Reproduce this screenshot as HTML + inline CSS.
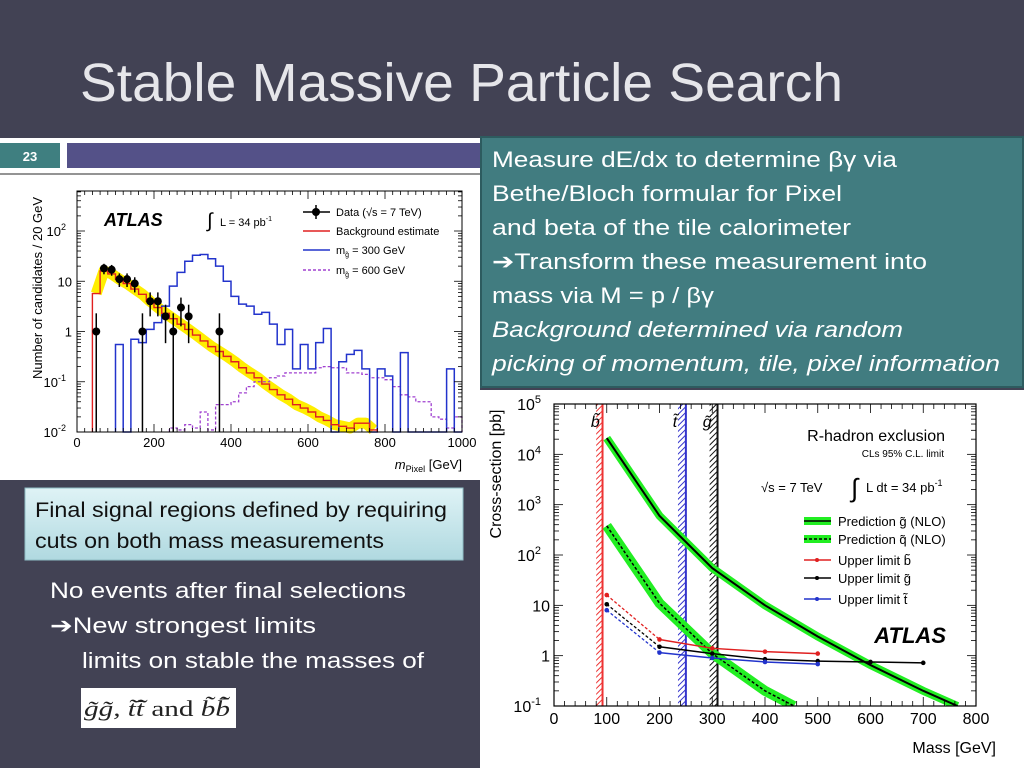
<!DOCTYPE html>
<html><head><meta charset="utf-8"><style>
html,body{margin:0;padding:0;background:#424254;width:1024px;height:768px;overflow:hidden}
svg text{font-family:"Liberation Sans",sans-serif}
</style></head><body>
<svg id="page" width="1024" height="768" viewBox="0 0 1024 768" xmlns="http://www.w3.org/2000/svg">
<defs>
<pattern id="hatchR" width="4" height="4" patternUnits="userSpaceOnUse" patternTransform="rotate(45)"><line x1="0" y1="0" x2="0" y2="4" stroke="#e33" stroke-width="2"/></pattern>
<pattern id="hatchB" width="4" height="4" patternUnits="userSpaceOnUse" patternTransform="rotate(45)"><line x1="0" y1="0" x2="0" y2="4" stroke="#33c" stroke-width="2"/></pattern>
<pattern id="hatchK" width="4" height="4" patternUnits="userSpaceOnUse" patternTransform="rotate(45)"><line x1="0" y1="0" x2="0" y2="4" stroke="#111" stroke-width="2"/></pattern>
<linearGradient id="lb" x1="0" y1="0" x2="0" y2="1"><stop offset="0" stop-color="#dff3f6"/><stop offset="1" stop-color="#b0d9e0"/></linearGradient>
</defs>
<rect x="0" y="0" width="1024" height="768" fill="#424254"/>
<text x="80" y="101" font-size="54" fill="#e6e6ea" textLength="763" lengthAdjust="spacingAndGlyphs">Stable Massive Particle Search</text>

<rect x="0" y="138" width="480" height="342" fill="#fff"/>
<rect x="0" y="143" width="60" height="25" fill="#3f7f80"/>
<text x="30" y="161" font-size="13" font-weight="bold" fill="#fff" text-anchor="middle">23</text>
<rect x="67" y="143" width="413" height="25" fill="#545188"/>
<line x1="0" y1="174" x2="480" y2="174" stroke="#555" stroke-width="1.2"/>
<g id="leftChart"></g>

<rect x="480" y="390" width="544" height="378" fill="#fff"/>
<g id="rightChart"></g>

<g>
<rect x="481" y="137" width="542" height="250" fill="#417c80" stroke="#2d5b5f" stroke-width="2"/>
<g font-size="22" fill="#fff" font-family="Liberation Sans, sans-serif">
<text x="492" y="167" textLength="405" lengthAdjust="spacingAndGlyphs">Measure dE/dx to determine βγ via</text>
<text x="492" y="201" textLength="350" lengthAdjust="spacingAndGlyphs">Bethe/Bloch formular for Pixel</text>
<text x="492" y="235" textLength="359" lengthAdjust="spacingAndGlyphs">and beta of the tile calorimeter</text>
<text x="492" y="269" textLength="435" lengthAdjust="spacingAndGlyphs">➔Transform these measurement into</text>
<text x="492" y="303" textLength="222" lengthAdjust="spacingAndGlyphs">mass via M = p / βγ</text>
<text x="492" y="337" font-style="italic" textLength="411" lengthAdjust="spacingAndGlyphs">Background determined via random</text>
<text x="492" y="371" font-style="italic" textLength="508" lengthAdjust="spacingAndGlyphs">picking of momentum, tile, pixel information</text>
</g></g>

<g>
<rect x="25" y="488" width="438" height="72" fill="url(#lb)" stroke="#8fbcc4" stroke-width="1"/>
<text x="35" y="517" font-size="21" fill="#111" textLength="412" lengthAdjust="spacingAndGlyphs">Final signal regions defined by requiring</text>
<text x="35" y="548" font-size="21" fill="#111" textLength="349" lengthAdjust="spacingAndGlyphs">cuts on both mass measurements</text>
</g>
<g font-size="22" fill="#fff">
<text x="50" y="598" textLength="356" lengthAdjust="spacingAndGlyphs">No events after final selections</text>
<text x="50" y="633" textLength="266" lengthAdjust="spacingAndGlyphs">➔New strongest limits</text>
<text x="82" y="668" textLength="342" lengthAdjust="spacingAndGlyphs">limits on stable the masses of</text>
</g>
<g>
<rect x="81" y="688" width="155" height="40" fill="#fff"/>
<text x="84" y="716" font-size="22" fill="#222" style="font-family:'Liberation Serif',serif" textLength="146" lengthAdjust="spacingAndGlyphs"><tspan font-style="italic">g̃g̃, t̃t̃̄</tspan> and <tspan font-style="italic">b̃b̃̄</tspan></text>
</g>
</svg>
<script>
// ---------- Left chart data ----------
const bgEdgesStart = 40;
const bgValues = [5.7,16,14,11,9,7,5.5,4,3,2.3,1.8,1.4,1.1,0.85,0.65,0.5,0.4,0.32,0.25,0.19,0.15,0.12,0.09,0.07,0.055,0.045,0.035,0.03,0.025,0.02,0.017,0.014,0.013,0.012,0.015,0.015,0.011];
const sig300Start = 100;
const sig300Values = [0.55,0,0.7,0.6,1.1,1.5,3.2,8,15,25,33,34,28,20,10,5,3.5,3.2,2.2,2.4,1.4,0.55,1.1,0.18,0.55,0.18,0.6,1.15,0,0.25,0.35,0.42,0.18,0,0.18,0.13,0,0.38,0,0,0,0,0,0.18,0];
const sig600Start = 240;
const sig600Values = [0.012,0.011,0.014,0.012,0.025,0.011,0.035,0.035,0.04,0.06,0.08,0.1,0.1,0.12,0.13,0.15,0.15,0.15,0.15,0.19,0.2,0.19,0.19,0.15,0.15,0.14,0.12,0.12,0.11,0.08,0.055,0.05,0.04,0.04,0.02,0.018,0.012,0.02];
const dataMass = [50,70,90,110,130,150,170,190,210,230,250,270,290,370];
const dataCounts = [1,18,17,11,11,9,1,4,4,2,1,3,2,1];
const leftXTicks = [0,200,400,600,800,1000];
const leftYTicks = [-2,-1,0,1,2];
const leftYLabels = ["10","10","1","10","10"];
const leftYSup = ["-2","-1","","","2"];

// ---------- Right chart data ----------
const predGMass = [100,200,300,400,500,600,700,765];
const predGXsec = [21000,600,55,10,2.4,0.65,0.2,0.1];
const predQMass = [100,200,300,400,455];
const predQXsec = [380,11,1.1,0.2,0.1];
const limBMass = [100,200,300,400,500];
const limBXsec = [16,2.1,1.4,1.2,1.1];
const limGMass = [100,200,300,400,500,600,700];
const limGXsec = [10.5,1.5,1.1,0.85,0.78,0.75,0.72];
const limTMass = [100,200,300,400,500];
const limTXsec = [8,1.15,0.9,0.75,0.68];
const exclBands = [[80,92],[235,250],[295,310]];
const rightXTicks = [0,100,200,300,400,500,600,700,800];
const rightYTicks = [-1,0,1,2,3,4,5];

const NS="http://www.w3.org/2000/svg";
function mk(tag, attrs, parent, text){const e=document.createElementNS(NS,tag);for(const k in attrs)e.setAttribute(k,attrs[k]);if(text!==undefined)e.textContent=text;parent.appendChild(e);return e;}

(function(){
const g=document.getElementById('leftChart');
const X0=77,X1=462,Y0=432,Y1=191;
const xs=v=>X0+(v/1000)*(X1-X0);
const ymin=-2, dec=50.25;
const ys=v=>{ if(v<=0) return Y0; let y=Y0-(Math.log10(v)-ymin)*dec; return Math.min(Y0,y);};
function stepPath(start,vals){let d='';vals.forEach((v,i)=>{const x0=xs(start+20*i),x1=xs(start+20*i+20);const y=ys(v);d+=(i===0?`M${x0},${Y0}L${x0},${y}`:`L${x0},${y}`)+`L${x1},${y}`;});d+=`L${xs(start+20*vals.length)},${Y0}`;return d;}
let band='';bgValues.forEach((v,i)=>{const x=xs(bgEdgesStart+20*i+10);band+=(i?'L':'M')+x+','+ys(v);});
const yb=mk('path',{d:band,fill:'none',stroke:'#ffee00','stroke-width':11,'stroke-linejoin':'round'},g);


const p6=mk('path',{d:stepPath(sig600Start,sig600Values),fill:'none',stroke:'#a040d0','stroke-width':1.3,'stroke-dasharray':'3,2'},g);


const p3=mk('path',{d:stepPath(sig300Start,sig300Values),fill:'none',stroke:'#2233cc','stroke-width':1.5},g);


const pb=mk('path',{d:stepPath(bgEdgesStart,bgValues),fill:'none',stroke:'#e02020','stroke-width':1.4},g);


dataMass.forEach((m,i)=>{const c=dataCounts[i];const x=xs(m);const e=Math.sqrt(c)+ (c<=1?0.3:0);
 const pt=mk('g',{},g);
 
 
 mk('line',{x1:x,x2:x,y1:ys(c+e),y2:ys(c-e),stroke:'#000','stroke-width':1.5},pt);
 mk('circle',{cx:x,cy:ys(c),r:4,fill:'#000'},pt);});
mk('rect',{x:X0,y:Y1,width:X1-X0,height:Y0-Y1,fill:'none',stroke:'#000','stroke-width':1},g);
for(let v=0;v<=1000;v+=20){const x=xs(v);const L=v%200===0?8:4;mk('line',{x1:x,x2:x,y1:Y0,y2:Y0-L,stroke:'#000','stroke-width':0.8},g);mk('line',{x1:x,x2:x,y1:Y1,y2:Y1+L,stroke:'#000','stroke-width':0.8},g);}
for(let d=-2;d<2.8;d++){for(let k=1;k<10;k++){const v=k*Math.pow(10,d);const y=ys(v);if(y<Y1)continue;const L=k===1?8:4;mk('line',{x1:X0,x2:X0+L,y1:y,y2:y,stroke:'#000','stroke-width':0.8},g);mk('line',{x1:X1,x2:X1-L,y1:y,y2:y,stroke:'#000','stroke-width':0.8},g);}}
leftXTicks.forEach(v=>{const t=mk('text',{x:xs(v),y:447,'font-size':13,'text-anchor':'middle',fill:'#000'},g,String(v));});
leftYTicks.forEach((d,i)=>{const y=ys(Math.pow(10,d))+5;const t=mk('text',{x:leftYSup[i]?66:72,y:y,'font-size':13,'text-anchor':'end',fill:'#000'},g,leftYLabels[i]);
 if(leftYSup[i]){mk('tspan',{dy:-6,'font-size':9},t,leftYSup[i]);}
 });
const yl=mk('text',{x:0,y:0,'font-size':13,'text-anchor':'middle',transform:'translate(42,288) rotate(-90)',fill:'#000'},g,'Number of candidates / 20 GeV');

const xl=mk('text',{x:462,y:469,'font-size':13,'text-anchor':'end',fill:'#000'},g,'');

mk('tspan',{'font-style':'italic'},xl,'m');mk('tspan',{dy:3,'font-size':9},xl,'Pixel');mk('tspan',{dy:-3},xl,' [GeV]');
const at=mk('text',{x:104,y:226,'font-size':18,'font-weight':'bold','font-style':'italic',fill:'#000'},g,'ATLAS');

mk('text',{x:207,y:227,'font-size':20,fill:'#000'},g,'∫');
const lt=mk('text',{x:220,y:226,'font-size':11,fill:'#000'},g,'L = 34 pb');mk('tspan',{dy:-5,'font-size':7},lt,'-1');

const lg=mk('g',{},g);
mk('line',{x1:303,x2:330,y1:212,y2:212,stroke:'#000','stroke-width':1.5},lg);mk('line',{x1:316,x2:316,y1:205,y2:219,stroke:'#000','stroke-width':1.5},lg);mk('circle',{cx:316,cy:212,r:4},lg);
mk('text',{x:336,y:216,'font-size':11},lg,'Data (√s = 7 TeV)');
mk('line',{x1:303,x2:330,y1:231,y2:231,stroke:'#e02020','stroke-width':1.5},lg);
mk('text',{x:336,y:235,'font-size':11},lg,'Background estimate');
mk('line',{x1:303,x2:330,y1:250,y2:250,stroke:'#2233cc','stroke-width':1.5},lg);
const t3=mk('text',{x:336,y:254,'font-size':11},lg,'m');mk('tspan',{dy:3,'font-size':7},t3,'g̃');mk('tspan',{dy:-3},t3,' = 300 GeV');
mk('line',{x1:303,x2:330,y1:270,y2:270,stroke:'#a040d0','stroke-width':1.5,'stroke-dasharray':'3,2'},lg);
const t6=mk('text',{x:336,y:274,'font-size':11},lg,'m');mk('tspan',{dy:3,'font-size':7},t6,'g̃');mk('tspan',{dy:-3},t6,' = 600 GeV');
})();

(function(){
const g=document.getElementById('rightChart');
const X0=554,X1=976,Y0=706,Y1=404;
const xs=v=>X0+(v/800)*(X1-X0);
const dec=(Y0-Y1)/6;
const ys=v=>Y0-(Math.log10(v)+1)*dec;
const clip=mk('clipPath',{id:'rclip'},g);mk('rect',{x:X0,y:Y1,width:X1-X0,height:Y0-Y1},clip);
const inner=mk('g',{'clip-path':'url(#rclip)'},g);
const fills=['url(#hatchR)','url(#hatchB)','url(#hatchK)'];const cols=['#e33','#33c','#111'];
exclBands.forEach((b,i)=>{const r=mk('rect',{x:xs(b[0]),y:Y1,width:xs(b[1])-xs(b[0]),height:Y0-Y1,fill:fills[i]},inner);
 
 mk('line',{x1:xs(b[1]),x2:xs(b[1]),y1:Y1,y2:Y0,stroke:cols[i],'stroke-width':2},inner);});
function pts(m,v){return m.map((x,i)=>xs(x)+','+ys(v[i])).join(' ');}
const gb=mk('polyline',{points:pts(predGMass,predGXsec),fill:'none',stroke:'#22ee22','stroke-width':8},inner);

const gl=mk('polyline',{points:pts(predGMass,predGXsec),fill:'none',stroke:'#000','stroke-width':2},inner);

const qb=mk('polyline',{points:pts(predQMass,predQXsec),fill:'none',stroke:'#22ee22','stroke-width':10},inner);

const ql=mk('polyline',{points:pts(predQMass,predQXsec),fill:'none',stroke:'#000','stroke-width':1.5,'stroke-dasharray':'3,2'},inner);

function limit(m,v,c,name){const lg=mk('g',{},inner);
 mk('line',{x1:xs(m[0]),y1:ys(v[0]),x2:xs(m[1]),y2:ys(v[1]),stroke:c,'stroke-width':1.3,'stroke-dasharray':'3,2'},lg);
 mk('polyline',{points:pts(m.slice(1),v.slice(1)),fill:'none',stroke:c,'stroke-width':1.5},lg);
 m.forEach((x,i)=>mk('circle',{cx:xs(x),cy:ys(v[i]),r:2.3,fill:c},lg));}
limit(limBMass,limBXsec,'#e02020','sbottom-upper-limit');
limit(limGMass,limGXsec,'#000','gluino-upper-limit');
limit(limTMass,limTXsec,'#2233cc','stop-upper-limit');
mk('rect',{x:X0,y:Y1,width:X1-X0,height:Y0-Y1,fill:'none',stroke:'#000','stroke-width':1.2},g);
for(let v=0;v<=800;v+=20){const x=xs(v);const L=v%100===0?9:5;mk('line',{x1:x,x2:x,y1:Y0,y2:Y0-L,stroke:'#000','stroke-width':0.8},g);mk('line',{x1:x,x2:x,y1:Y1,y2:Y1+L,stroke:'#000','stroke-width':0.8},g);}
for(let d=-1;d<5;d++){for(let k=1;k<10;k++){const y=ys(k*Math.pow(10,d));const L=k===1?9:5;mk('line',{x1:X0,x2:X0+L,y1:y,y2:y,stroke:'#000','stroke-width':0.8},g);mk('line',{x1:X1,x2:X1-L,y1:y,y2:y,stroke:'#000','stroke-width':0.8},g);}}
rightXTicks.forEach(v=>{const t=mk('text',{x:xs(v),y:724,'font-size':16,'text-anchor':'middle'},g,String(v));});
rightYTicks.forEach(d=>{const y=ys(Math.pow(10,d))+6;let t;
 if(d===0) t=mk('text',{x:550,y:y,'font-size':16,'text-anchor':'end'},g,'1');
 else if(d===1) t=mk('text',{x:550,y:y,'font-size':16,'text-anchor':'end'},g,'10');
 else {t=mk('text',{x:541,y:y,'font-size':16,'text-anchor':'end'},g,'10');mk('tspan',{dy:-7,'font-size':11},t,String(d));}
 });
const yl=mk('text',{x:0,y:0,'font-size':16,'text-anchor':'middle',transform:'translate(501,474) rotate(-90)'},g,'Cross-section [pb]');

const xl=mk('text',{x:996,y:753,'font-size':16,'text-anchor':'end'},g,'Mass [GeV]');

[['b̃',xs(70),'b-band-label'],['t̃',xs(225),'t-band-label'],['g̃',xs(282),'g-band-label']].forEach(a=>{const t=mk('text',{x:a[1],y:427,'font-size':16,'font-style':'italic'},g,a[0]);});
const ti=mk('text',{x:945,y:441,'font-size':16,'text-anchor':'end'},g,'R-hadron exclusion');
mk('text',{x:944,y:457,'font-size':10,'text-anchor':'end'},g,'CLs 95% C.L. limit');
mk('text',{x:761,y:492,'font-size':13},g,'√s = 7 TeV');
mk('text',{x:851,y:497,'font-size':26},g,'∫');
const lt=mk('text',{x:866,y:492,'font-size':13},g,'L dt = 34 pb');mk('tspan',{dy:-6,'font-size':9},lt,'-1');
const at=mk('text',{x:946,y:643,'font-size':22,'font-weight':'bold','font-style':'italic','text-anchor':'end'},g,'ATLAS');

const lg=mk('g',{},g);
mk('rect',{x:804,y:517,width:27,height:8,fill:'#22ee22'},lg);mk('line',{x1:804,x2:831,y1:521,y2:521,stroke:'#000','stroke-width':1.5},lg);
mk('text',{x:838,y:526,'font-size':13},lg,'Prediction g̃ (NLO)');
mk('rect',{x:804,y:535,width:27,height:8,fill:'#22ee22'},lg);mk('line',{x1:804,x2:831,y1:539,y2:539,stroke:'#000','stroke-width':1.5,'stroke-dasharray':'3,2'},lg);
mk('text',{x:838,y:544,'font-size':13},lg,'Prediction q̃ (NLO)');
[['#e02020',560,'Upper limit b̃'],['#000',578,'Upper limit g̃'],['#2233cc',599,'Upper limit t̃']].forEach(a=>{mk('line',{x1:804,x2:831,y1:a[1],y2:a[1],stroke:a[0],'stroke-width':1.5},lg);mk('circle',{cx:817,cy:a[1],r:2,fill:a[0]},lg);mk('text',{x:838,y:a[1]+5,'font-size':13},lg,a[2]);});
})();
</script>
</body></html>
